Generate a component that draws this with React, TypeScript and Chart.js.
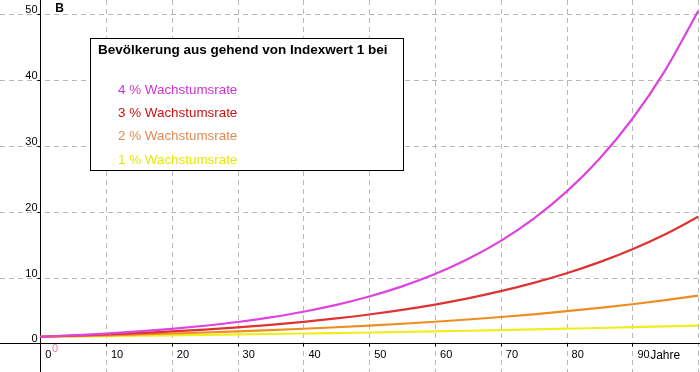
import React, { useEffect, useRef } from "react";
import { Chart, registerables } from "chart.js";

Chart.register(...registerables);

const years = [0, 5, 10, 15, 20, 25, 30, 35, 40, 45, 50, 55, 60, 65, 70, 75, 80, 85, 90, 95, 100];
const rate4 = [1, 1.22, 1.48, 1.8, 2.19, 2.67, 3.24, 3.95, 4.8, 5.84, 7.11, 8.65, 10.52, 12.8, 15.57, 18.95, 23.05, 28.04, 34.12, 41.51, 50.5];
const rate3 = [1, 1.16, 1.34, 1.56, 1.81, 2.09, 2.43, 2.81, 3.26, 3.78, 4.38, 5.08, 5.89, 6.83, 7.92, 9.18, 10.64, 12.34, 14.3, 16.58, 19.22];
const rate2 = [1, 1.1, 1.22, 1.35, 1.49, 1.64, 1.81, 2.0, 2.21, 2.44, 2.69, 2.97, 3.28, 3.62, 4.0, 4.41, 4.88, 5.38, 5.94, 6.56, 7.24];
const rate1 = [1, 1.05, 1.1, 1.16, 1.22, 1.28, 1.35, 1.42, 1.49, 1.56, 1.64, 1.73, 1.82, 1.91, 2.01, 2.11, 2.22, 2.33, 2.45, 2.57, 2.7];

const xTicks = [0, 10, 20, 30, 40, 50, 60, 70, 80, 90];
const xGrid = [10, 20, 30, 40, 50, 60, 70, 80, 90, 100];
const yTicks = [0, 10, 20, 30, 40, 50];
const yGrid = [10, 20, 30, 40, 50];

const legendTitle = "Bevölkerung aus gehend von Indexwert 1 bei";
const legendLabels = ["4 % Wachstumsrate", "3 % Wachstumsrate", "2 % Wachstumsrate", "1 % Wachstumsrate"];
const legendColors = ["#cc33cc", "#cc1111", "#e08a55", "#e8e800"];
const lineColors = ["#dd44dd", "#dd3333", "#ee8d22", "#eeee22"];
const seriesData = [rate4, rate3, rate2, rate1];

const FONT = "'Liberation Sans', Arial, sans-serif";

const axesPlugin = {
  id: "geoAxes",
  beforeDatasetsDraw(chart: any) {
    const ctx = chart.ctx;
    const xs = chart.scales.x;
    const ys = chart.scales.y;
    const W = chart.width;
    const H = chart.height;
    ctx.save();
    ctx.strokeStyle = "#b8b8b8";
    ctx.lineWidth = 1;
    ctx.setLineDash([5, 4]);
    for (const v of xGrid) {
      const px = Math.round(xs.getPixelForValue(v)) + 0.5;
      ctx.beginPath();
      ctx.moveTo(px, 0);
      ctx.lineTo(px, H);
      ctx.stroke();
    }
    for (const v of yGrid) {
      const py = Math.round(ys.getPixelForValue(v)) + 0.5;
      ctx.beginPath();
      ctx.moveTo(0, py);
      ctx.lineTo(W, py);
      ctx.stroke();
    }
    ctx.setLineDash([]);
    const x0 = Math.round(xs.getPixelForValue(0)) + 0.5;
    const y0 = Math.round(ys.getPixelForValue(0)) + 0.5;
    ctx.strokeStyle = "#000";
    ctx.beginPath();
    ctx.moveTo(x0, 0);
    ctx.lineTo(x0, H);
    ctx.moveTo(0, y0);
    ctx.lineTo(W, y0);
    ctx.stroke();
    ctx.beginPath();
    for (const v of yTicks) {
      const py = Math.round(ys.getPixelForValue(v)) + 0.5;
      ctx.moveTo(x0 - 3, py);
      ctx.lineTo(x0, py);
    }
    for (const v of xTicks) {
      const px = Math.round(xs.getPixelForValue(v)) + 0.5;
      ctx.moveTo(px, y0);
      ctx.lineTo(px, y0 + 3);
    }
    ctx.stroke();
    ctx.fillStyle = "#000";
    ctx.font = `11px ${FONT}`;
    ctx.textAlign = "right";
    ctx.textBaseline = "alphabetic";
    for (const v of yTicks) {
      const py = ys.getPixelForValue(v);
      ctx.fillText(String(v), x0 - 3, py - 1);
    }
    ctx.textAlign = "left";
    ctx.textBaseline = "top";
    for (const v of xTicks) {
      const px = xs.getPixelForValue(v);
      ctx.fillText(String(v), px + 5, y0 + 6);
    }
    ctx.font = `12px ${FONT}`;
    ctx.fillText("Jahre", xs.getPixelForValue(92.7), y0 + 6);
    ctx.font = `bold 12px ${FONT}`;
    ctx.fillText("B", xs.getPixelForValue(2.3), 3);
    ctx.fillStyle = "#e080b0";
    ctx.font = `11px ${FONT}`;
    ctx.fillText("0", xs.getPixelForValue(1.8), y0);
    ctx.restore();
  },
  afterDatasetsDraw(chart: any) {
    const ctx = chart.ctx;
    ctx.save();
    const bx = 90.5, by = 38.5, bw = 313, bh = 132;
    ctx.fillStyle = "#fff";
    ctx.fillRect(bx, by, bw, bh);
    ctx.strokeStyle = "#000";
    ctx.lineWidth = 1;
    ctx.strokeRect(bx, by, bw, bh);
    ctx.textAlign = "left";
    ctx.textBaseline = "middle";
    ctx.fillStyle = "#000";
    ctx.font = `bold 13.5px ${FONT}`;
    ctx.fillText(legendTitle, 98, 50);
    ctx.font = `13.4px ${FONT}`;
    const ys = [90, 113, 136, 160];
    legendLabels.forEach((t, i) => {
      ctx.fillStyle = legendColors[i];
      ctx.fillText(t, 118, ys[i]);
    });
    ctx.restore();
  },
};

export default function App() {
  const ref = useRef<HTMLCanvasElement | null>(null);
  useEffect(() => {
    document.body.style.margin = "0";
    const canvas = ref.current!;
    const chart = new Chart(canvas, {
      type: "line",
      data: {
        datasets: seriesData.map((d, i) => ({
          label: legendLabels[i],
          data: years.map((y, j) => ({ x: y, y: d[j] })),
          borderColor: lineColors[i],
          borderWidth: 2.2,
          pointRadius: 0,
          fill: false,
          cubicInterpolationMode: "monotone" as const,
        })),
      },
      options: {
        animation: false,
        responsive: false,
        devicePixelRatio: 1,
        layout: { padding: 0 },
        plugins: { legend: { display: false }, tooltip: { enabled: false } },
        scales: {
          x: { type: "linear", min: -6.11, max: 100.27, display: false },
          y: { type: "linear", min: -4.36, max: 52.17, display: false },
        },
      },
      plugins: [axesPlugin],
    });
    return () => chart.destroy();
  }, []);
  return (
    <div style={{ width: 700, height: 372, background: "#fff" }}>
      <canvas ref={ref} width={700} height={372} style={{ display: "block" }} />
    </div>
  );
}
